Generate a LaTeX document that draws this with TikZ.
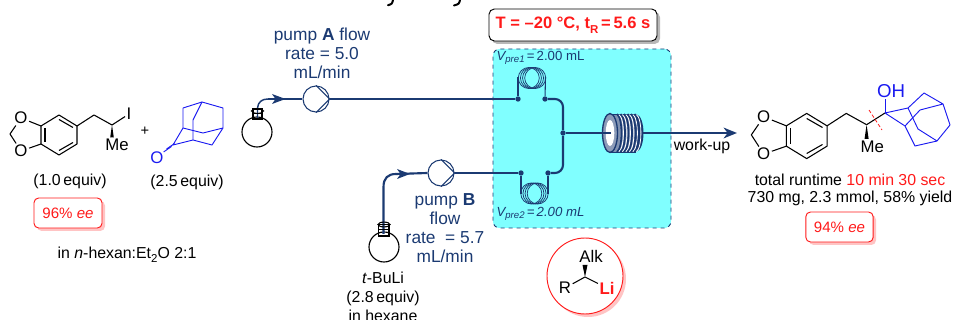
\documentclass[tikz,border=0pt]{standalone}
\usepackage{fontspec}
\setmainfont{Liberation Sans}
\usetikzlibrary{arrows.meta,shapes.geometric}
\definecolor{navy}{HTML}{1B3A72}
\definecolor{panel}{HTML}{80FFFF}
\definecolor{adblue}{HTML}{1A1AF0}
\definecolor{hired}{HTML}{FF1A1A}
\definecolor{pinkshadow}{HTML}{FFC4C4}
\newcommand{\lowsub}[1]{\raisebox{-0.28em}{\fontsize{8.6}{10}\selectfont #1}}
\newcommand{\volsub}[1]{\raisebox{-0.2em}{\fontsize{7.2}{9}\selectfont #1}}
\tikzset{
  txt/.style={font=\fontsize{11.9}{14.2}\selectfont,inner sep=0pt,align=center},
  navytxt/.style={txt,text=navy,font=\fontsize{13}{14.25}\selectfont},
  atom/.style={font=\fontsize{12.6}{14}\selectfont,inner sep=1pt},
  bond/.style={line width=0.8pt,line join=round},
  adam/.style={line width=0.7pt,adblue,line join=round},
  tube/.style={line width=1.6pt,navy},
  thintube/.style={line width=0.8pt,navy},
  pump/.style={circle,draw=navy,line width=0.8pt,minimum size=19.5pt,inner sep=0pt},
  flask/.style={circle,draw=black,line width=0.85pt,minimum size=22.5pt,inner sep=0pt,fill=white},
  junction/.style={circle,fill=navy,minimum size=4pt,inner sep=0pt},
  redbox/.style={draw=hired,line width=0.7pt,rounded corners=3.5pt,fill=white},
  redshadow/.style={fill=pinkshadow,rounded corners=3.5pt}
}
% ring and chain drawn in local coordinates round the ring centre
\newcommand{\benzo}[4]{%
\begin{scope}[shift={(#1,#2)},x=#3*0.75pt,y=-#3*0.75pt]
  \coordinate (#4T) at (0,-20); \coordinate (#4UR) at (18,-9); \coordinate (#4LR) at (18,9);
  \coordinate (#4B) at (0,20); \coordinate (#4LL) at (-18,9); \coordinate (#4UL) at (-18,-9);
  \coordinate (#4Cb) at (35,-20); \coordinate (#4St) at (53,-10); \coordinate (#4Cm) at (-49,-1);
  \node[atom] (#4Ot) at (-38,-17) {O};
  \node[atom] (#4Ob) at (-38,16) {O};
  \node[atom] (#4Me) at (58,10) {Me};
  \draw[bond] (#4T)--(#4UR)--(#4LR)--(#4B)--(#4LL)--(#4UL)--cycle;
  \draw[bond] (14,-7.5)--(0,-15.5);
  \draw[bond] (14,7.5)--(0,15.5);
  \draw[bond] (-14,-7)--(-14,7);
  \draw[bond] (#4UL)--(#4Ot)--(#4Cm)--(#4Ob)--(#4LL);
  \draw[bond] (#4UR)--(#4Cb)--(#4St);
  \fill (#4St) -- (51.2,2.5) -- (54.8,2.5) -- cycle;
\end{scope}}
\begin{document}
\begin{tikzpicture}[x=0.75pt,y=-0.75pt]
\path[use as bounding box] (0,0) rectangle (954,320);

% clipped ends of letters at the top edge
\draw[line width=1.5pt,line cap=round] (393,0) .. controls (392,4) .. (388,5.2);
\draw[line width=1.5pt,line cap=round] (460,0) .. controls (459,4) .. (454,5.5);

% panel
\node[draw=navy,dashed,line width=0.7pt,fill=panel,rounded corners=5pt,minimum width=133.5pt,minimum height=134.25pt,inner sep=0pt] (panelbox) at (582,138.5) {};

% temperature box
\fill[black!28,rounded corners=4pt] (492,12) rectangle (660,44);
\node[draw=black,line width=0.7pt,fill=white,rounded corners=4pt,minimum width=126pt,minimum height=24pt,inner sep=0pt,text=hired,font=\fontsize{12.4}{14}\selectfont\bfseries] (tbox) at (573,25) {T = –20 °C, t\lowsub{R}\,=\,5.6 s};

% left substrate
\benzo{59}{135}{1}{s}
\node[atom] (sI) at (129,114) {I};
\draw[bond] (sSt)--(sI);

\node[font=\fontsize{11}{12}\selectfont,inner sep=0pt] (plus) at (145,131) {+};

% adamantanone
\coordinate (kt) at (202,102); \coordinate (klu) at (183,108); \coordinate (kru) at (223,108);
\coordinate (kll) at (183,128); \coordinate (kr) at (223,128); \coordinate (kb) at (203,133);
\coordinate (kbt) at (193,120); \coordinate (kc) at (193,140); \coordinate (kbo) at (212,145);
\coordinate (kco) at (173,145);
\node[atom,text=adblue] (kO) at (157,158) {O};
\draw[adam] (klu)--(kt)--(kru)--(kr)--(kbo)--(kc)--(kco)--(kll)--(klu);
\draw[adam] (kt)--(kbt)--(kc);
\draw[adam] (kll)--(kb)--(kr);
\draw[adam] ([xshift=-1.1pt,yshift=-1.1pt]kco)--([xshift=-1.1pt,yshift=-1.1pt]kO.north east);
\draw[adam] ([xshift=1.1pt,yshift=1.1pt]kco)--([xshift=1.1pt,yshift=1.1pt]kO.north east);

\node[txt] (eq1) at (70,181) {(1.0\,equiv)};
\node[txt] (eq2) at (187,182) {(2.5\,equiv)};

\fill[redshadow] (37,201) rectangle (105,231);
\node[redbox,minimum width=51pt,minimum height=22.5pt,inner sep=0pt,text=hired,font=\fontsize{11.3}{14}\selectfont] (ee1) at (68,213) {96\% \textit{ee}};
\node[txt] (solv) at (127,255) {in \textit{n}-hexan:Et\lowsub{2}O 2:1};

% flask A, pump A
\node[flask] (flA) at (257,132) {};
\node[pump] (pA) at (316,99) {};
\coordinate (nA) at (257.5,118);
\coordinate (tA) at (257.5,108);
\coordinate (aA1) at (268,99);
\draw[tube,line width=1.1pt] (nA)--(tA) .. controls (258,102) and (262,99) .. (aA1);
\draw[tube] (aA1)--(pA.west);
\fill[navy] (285.5,99) -- (272,94) -- (275.5,99) -- (272,104) -- cycle;
\draw[line width=0.8pt] (253,109) rectangle (262,119);
\draw[line width=0.8pt] (257.5,111) ellipse [x radius=6,y radius=2.4];
\draw[line width=0.8pt] (253,113.5)--(262,113.5);
\draw[thintube] (pA.north)--(pA.east)--(pA.south);

% flask B, pump B
\node[flask] (flB) at (384,247) {};
\node[pump] (pB) at (441,173) {};
\coordinate (nB) at (383.5,234);
\coordinate (tB) at (383.5,187);
\coordinate (aB1) at (396,174);
\draw[tube] (nB)--(tB) .. controls (383.5,178) and (388,174) .. (aB1);
\draw[tube] (aB1)--(pB.west);
\fill[navy] (410,174) -- (397,169) -- (400.5,174) -- (397,179) -- cycle;
\draw[line width=0.8pt] (378.5,224.5) rectangle (389,236);
\draw[line width=0.8pt] (384,224.5) ellipse [x radius=6,y radius=2.4];
\draw[line width=0.8pt] (378.5,229.5)--(389,229.5);
\draw[thintube] (pB.north)--(pB.east)--(pB.south);

% junctions
\node[junction] (j1) at (518,99) {};
\node[junction] (j2) at (545,99) {};
\node[junction] (j3) at (521,173) {};
\node[junction] (j4) at (548,173) {};
\node[junction] (j5) at (563,133) {};
\draw[tube] (pA.east)--(j1);
\draw[tube] (pB.east)--(j3);
\draw[tube,rounded corners=6pt] (j2)--(563,99)--(j5);
\draw[tube,rounded corners=6pt] (j4)--(563,173)--(j5);

% precooling coils
\coordinate (c1) at (532,78);
\coordinate (c2) at (534.5,193.5);
\foreach \d in {-2.4,-0.8,0.8,2.4}{
  \draw[navy,line width=0.55pt] ([xshift=\d pt]c1) ellipse [x radius=10.5,y radius=10.5];
  \draw[navy,line width=0.55pt] ([xshift=\d pt]c2) ellipse [x radius=10.5,y radius=10.5];
}
\draw[thintube] (j1)--(518,77);
\draw[thintube] (j2)--(545.5,77);
\draw[thintube] (j3)--(521,194);
\draw[thintube] (j4)--(548,194);

% residence coil
\coordinate (rc) at (610,133);
\coordinate (re) at (642,133);
\fill[navy!55!white] (610,114) rectangle (636,152);
\draw[navy,line width=0.7pt] (610,114)--(636,114) (610,152)--(636,152);
\fill[navy] (636,114) .. controls (646,116) and (646,150) .. (636,152) -- cycle;
\foreach \x in {617,620.5,624,627.5,631,634.5}{
  \draw[navy,line width=1.3pt] (\x,114) .. controls (\x+6,118) and (\x+6,148) .. (\x,152);
  \draw[white,line width=0.6pt] (\x+1.9,114.6) .. controls (\x+7.9,118) and (\x+7.9,148) .. (\x+1.9,151.6);
}
\draw[navy,line width=1pt,fill=navy!50!white] (rc) ellipse [x radius=7.5,y radius=19.5];
\fill[white] (rc) ellipse [x radius=4.3,y radius=13];
\draw[tube] (j5)--(611,133);

% outlet
\coordinate (outEnd) at (737,133);
\draw[-{Stealth[length=10pt,width=8pt,inset=3pt]},tube] (re)--(outEnd);
\node[txt] (wu) at (702,146) {work-up};

% pump texts
\node[navytxt] (tA1) at (322,53) {pump \textbf{A} flow\\rate = 5.0\\mL/min};
\node[navytxt] (tB1) at (445,228.5) {pump \textbf{B}\\flow\\rate\ \ = 5.7\\mL/min};

% volume labels
\node[navytxt,font=\fontsize{9.9}{13}\selectfont] (v1) at (540.5,58) {\textit{V\volsub{pre1}}\,=\,2.00 mL};
\node[navytxt,font=\fontsize{9.9}{13}\selectfont] (v2) at (540.5,214) {\textit{V\volsub{pre2}\,=\,2.00 mL}};

% flask B text
\node[txt] (bu) at (383,296.5) {\textit{t}-BuLi\\(2.8\,equiv)\\in hexane};

% circle with organolithium
\node[circle,fill=pinkshadow,minimum size=57pt,inner sep=0pt] (cshadow) at (588,279) {};
\node[circle,draw=hired,line width=0.7pt,fill=white,minimum size=57pt,inner sep=0pt] (cbig) at (585,276) {};
\coordinate (li0) at (585,277);
\node[atom] (alk) at (591,256) {Alk};
\node[atom] (rr) at (565,288) {R};
\node[atom,text=hired,font=\fontsize{12.6}{14}\selectfont\bfseries] (lili) at (607,288) {Li};
\draw[bond] (rr)--(li0)--(lili);
\fill (li0) -- (582.5,265) -- (587.5,265) -- cycle;

% product
\benzo{806.7}{136}{1.13}{p}
\coordinate (qC) at (885,113);
\coordinate (qa) at (908,108); \coordinate (qb) at (905,126); \coordinate (qt) at (924,93);
\coordinate (qu) at (943,104); \coordinate (qv) at (920,110); \coordinate (qw) at (918,129);
\coordinate (qx) at (937,141); \coordinate (qy) at (915,146); \coordinate (qz) at (950,125);
\node[atom,text=adblue,font=\fontsize{14}{16}\selectfont] (qOH) at (891,91) {OH};
\draw[bond] (pSt)--(qC);
\draw[adam] (qC)--(885,99);
\draw[adam] (qb)--(qC)--(qa)--(qt)--(qu)--(qz)--(qx)--(qy)--(qb)--(qv)--(qu);
\draw[adam] (qa)--(qw)--(qx);
\coordinate (cut1) at (869,110);
\coordinate (cut2) at (882,130);
\draw[hired,line width=0.6pt,dash pattern=on 2.6pt off 1.6pt] (cut1)--(cut2);

\node[txt] (run) at (850,180) {total runtime \textcolor{hired}{10 min 30 sec}};
\node[txt] (yield) at (850,198) {730 mg, 2.3 mmol, 58\% yield};
\fill[redshadow] (809,215) rectangle (876,245);
\node[redbox,minimum width=50.5pt,minimum height=22.5pt,inner sep=0pt,text=hired,font=\fontsize{11.3}{14}\selectfont] (ee2) at (839.5,227) {94\% \textit{ee}};
\end{tikzpicture}
\end{document}
